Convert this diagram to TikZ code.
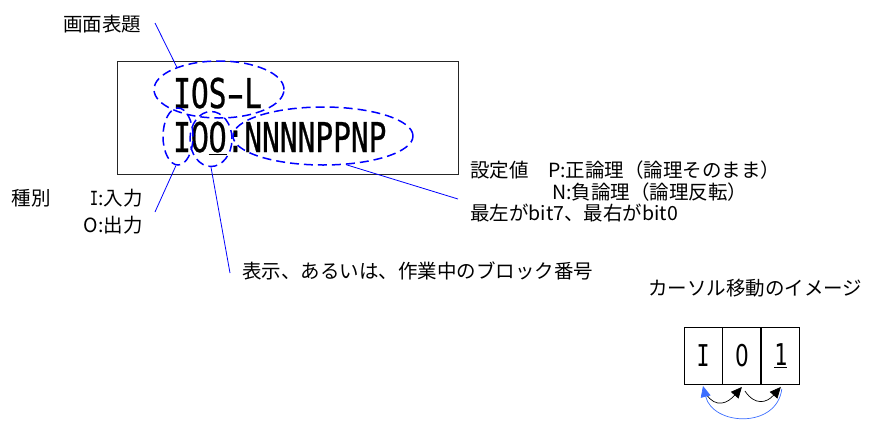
\documentclass[tikz,border=0pt]{standalone}
\usepackage{fontspec}
\usepackage{graphicx}
\setmainfont{Noto Sans CJK JP}
\newfontfamily\mono{DejaVu Sans Mono}[FakeStretch=0.72]
\newfontfamily\monob{DejaVu Sans Mono}[FakeStretch=0.72,FakeBold=0.6]
\newfontfamily\plainsans{DejaVu Sans}[FakeStretch=0.72]
\newfontfamily\plainsansb{DejaVu Sans}[FakeStretch=0.72,FakeBold=0.6]
\newcommand\zr{\hbox to \fontcharwd\font`0{\hss\plainsans 0\hss}}
\newcommand\zrb{\hbox to \fontcharwd\font`0{\hss\plainsansb 0\hss}}
\newcommand\dsh{\hbox to \fontcharwd\font`-{\hss\scalebox{1.7}[1]{-}\hss}}
\usetikzlibrary{shapes.geometric,arrows.meta,calc}
\definecolor{lb}{RGB}{0,0,255}
\definecolor{cb}{RGB}{60,110,255}
\tikzset{
 lbl/.style={inner sep=0pt, font=\fontsize{19.5}{22}\selectfont},
 oval/.style={ellipse, draw=lb, dash pattern=on 9pt off 5pt, line width=1.5pt, inner sep=0pt},
 leader/.style={draw=lb, line width=0.8pt},
 cell/.style={draw, line width=0.9pt, minimum width=38pt, minimum height=57pt, inner sep=0pt, font=\mono\fontsize{30}{30}\selectfont},
 big/.style={inner sep=0pt, font=\monob\fontsize{41}{41}\selectfont},
 cur/.style={-{Triangle[length=11pt,width=10pt]}, line width=0.7pt},
}
\begin{document}
\begin{tikzpicture}[x=1pt,y=-1pt]
\useasboundingbox (0,0) rectangle (882,421);
% screen box
\node[draw=black!85, line width=1pt, minimum width=341pt, minimum height=113pt, inner sep=0pt] (scr) at (287.5,117.5) {};
\node[big, anchor=base west] (t1) at (173,108) {IOS\dsh L};
\node[big, anchor=base west] (t2) at (173,152) {I\zrb\underline{\zrb}:NNNNPPNP};
% ovals
\node[oval, minimum width=130pt, minimum height=57pt] (e1) at (219,89.5) {};
\node[oval, minimum width=30pt, minimum height=57pt] (eA) at (178,136.5) {};
\node[oval, minimum width=42pt, minimum height=55pt] (eB) at (211,139) {};
\node[oval, minimum width=180pt, minimum height=58pt] (eC) at (323,136) {};
% labels
\node[lbl] (title) at (102,24) {画面表題};
\coordinate (p1) at (155,23);
\draw[leader] (p1) -- (e1.152);
\node[lbl] (kind) at (31,198) {種別};
\node[lbl, anchor=east] (kin) at (143,198) {{\mono I}:入力};
\node[lbl, anchor=east] (kout) at (143,225) {O:出力};
\coordinate (pA) at (155,212);
\draw[leader] (eA.266) -- (pA);
\node[lbl, anchor=west] (blk) at (242,271) {表示、あるいは、作業中のブロック番号};
\coordinate (pB) at (230,273);
\draw[leader] (eB.south) -- (pB);
\node[lbl, anchor=west] (set1) at (470,170) {設定値　P:正論理（論理そのまま）};
\node[lbl, anchor=west] (set2) at (552,192) {N:負論理（論理反転）};
\node[lbl, anchor=west] (set3) at (470,213) {最左がbit7、最右がbit0};
\coordinate (pC) at (458,199);
\draw[leader] (eC.-51) -- (pC);
% cursor image
\node[lbl, anchor=west] (cap) at (648,288) {カーソル移動のイメージ};
\node[cell] (c1) at (703,356) {I};
\node[cell, anchor=west] (c2) at (c1.east) {\zr};
\node[cell, anchor=west] (c3) at (c2.east) {\underline{1}};
\draw[cur] ($(c1.south)+(3,9)$) .. controls +(10,15) and +(-14,16) .. ($(c2.south)+(0,2)$);
\draw[cur] ($(c2.south)+(3,6)$) .. controls +(10,15) and +(-14,16) .. ($(c3.south)+(0,2)$);
\draw[cur, color=cb] ($(c3.south)+(1,4)$) .. controls +(-5,40) and +(10,40) .. ($(c1.south)+(0,1)$);
\end{tikzpicture}
\end{document}
